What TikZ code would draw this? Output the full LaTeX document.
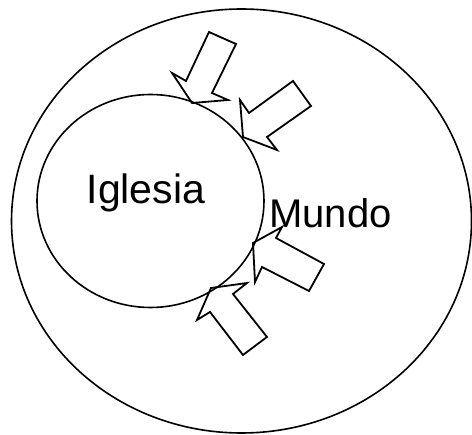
\documentclass[tikz,border=0pt]{standalone}
\usepackage{fontspec}
\setmainfont{Liberation Sans}
\begin{document}
\begin{tikzpicture}[x=1pt,y=-1pt,
  ring/.style={draw=black,line width=1.6pt},
  pusharrow/.style={draw=black,line width=1.8pt,line join=miter},
  label/.style={anchor=base west,inner sep=0pt,font=\fontsize{40}{40}\selectfont}]
\useasboundingbox (0,0) rectangle (472,435);
% world and church
\draw[ring] (241.5,221) ellipse [x radius=230, y radius=212];
\draw[ring] (150.5,201) ellipse [x radius=113.5, y radius=106.5];
\node[label,font=\fontsize{41}{41}\selectfont] (iglesia) at (86.5,204) {Iglesia};
\node[label] (mundo) at (269,227.5) {Mundo};
% pressure arrows
\draw[pusharrow] (209,32) -- (236,44) -- (212,93) -- (228,100) -- (192,103) -- (172,73) -- (186,81) -- cycle;
\draw[pusharrow] (293,81) -- (311,106) -- (267,137) -- (277,150) -- (243,137) -- (240,100) -- (249,113) -- cycle;
\draw[pusharrow] (324,264) -- (309,291) -- (262,267) -- (255,282) -- (253,243) -- (282,227) -- (276,238) -- cycle;
\draw[pusharrow] (267,337) -- (243,355) -- (210,312) -- (197,320) -- (211,288) -- (247,283) -- (233,294) -- cycle;
\end{tikzpicture}
\end{document}
